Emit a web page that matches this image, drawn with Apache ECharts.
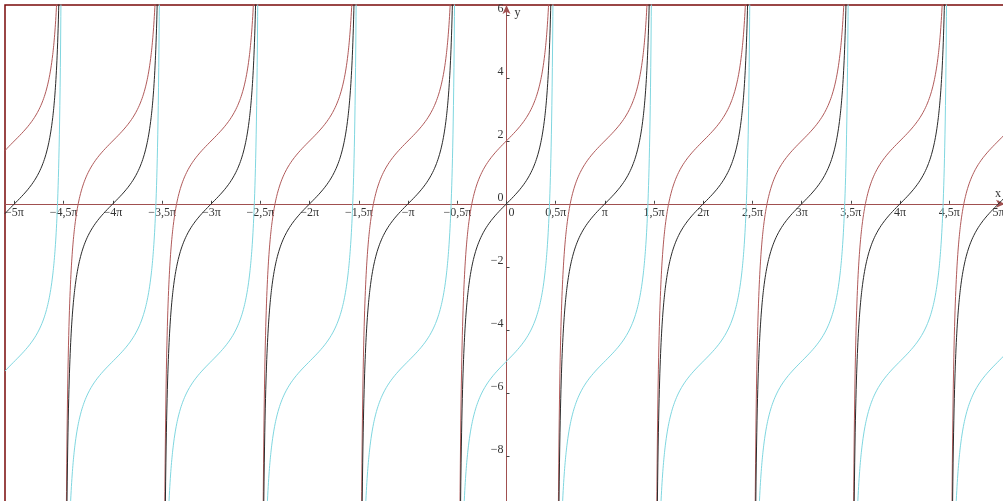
<!DOCTYPE html>
<html>
<head>
<meta charset="utf-8">
<script src="https://cdn.jsdelivr.net/npm/echarts@6/dist/echarts.min.js"></script>
<style>html,body{margin:0;padding:0;background:#fff;}#c{width:1003px;height:501px;}</style>
</head>
<body>
<div id="c"></div>
<script>
// x is measured in multiples of π
const seriesNames = ['tan x', 'tan x + 2', 'tan x − 5'];
const seriesOffsets = [0, 2, -5];
const seriesColors = ['#2a2a2a', '#b05a5a', '#7fd6df'];
const xTickValues = [-5,-4.5,-4,-3.5,-3,-2.5,-2,-1.5,-1,-0.5,0,0.5,1,1.5,2,2.5,3,3.5,4,4.5,5];
const xTickLabels = ['−5π','−4,5π','−4π','−3,5π','−3π','−2,5π','−2π','−1,5π','−π','−0,5π','0','0,5π','π','1,5π','2π','2,5π','3π','3,5π','4π','4,5π','5π'];
const yTickValues = [-8,-6,-4,-2,0,2,4,6];
const yTickLabels = ['−8','−6','−4','−2','0','2','4','6'];
const xRange = [-5.0965, 5.066];
const yRange = [-9.5, 6.311];
const sampleStep = 0.0025;

function buildSeriesData(offset) {
  const pts = [];
  const n = Math.round((xRange[1] - xRange[0]) / sampleStep);
  let prevK = null;
  for (let i = 0; i <= n; i++) {
    const x = xRange[0] + i * sampleStep;
    const k = Math.floor(x + 0.5); // branch index
    if (prevK !== null && k !== prevK) pts.push([k - 0.5, null]);
    prevK = k;
    pts.push([x, Math.tan(Math.PI * x) + offset]);
  }
  return pts;
}

const W = 1003, H = 501;
const G = {left: 5, top: 5, right: -2, bottom: -2};
const gw = W - G.left - G.right, gh = H - G.top - G.bottom;
// shift the axes onto the zero lines of the other axis (through the scale)
const xAxisOffset = -gh * (0 - yRange[0]) / (yRange[1] - yRange[0]);
const yAxisOffset = -gw * (0 - xRange[0]) / (xRange[1] - xRange[0]);

const chart = echarts.init(document.getElementById('c'), null, {renderer: 'canvas', width: W, height: H});
const axisColor = '#a05050';
const labelFont = {fontFamily: 'Liberation Serif', fontSize: 12, color: '#333'};

chart.setOption({
  animation: false,
  backgroundColor: '#fff',
  grid: Object.assign({show: true, borderColor: '#7a0a0a', borderWidth: 1.5, backgroundColor: 'transparent', containLabel: false, outerBoundsMode: 'none'}, G),
  xAxis: {
    type: 'value', min: xRange[0], max: xRange[1], position: 'bottom', offset: xAxisOffset,
    name: 'x', nameLocation: 'end', nameGap: 2,
    nameTextStyle: {fontFamily: 'Liberation Serif', fontSize: 12, color: '#333', align: 'right', verticalAlign: 'bottom', padding: [0, 6, 4, 0]},
    axisLine: {onZero: false, lineStyle: {color: axisColor, width: 1}, symbol: ['none', 'arrow'], symbolSize: [6, 9]},
    axisTick: {show: true, inside: true, length: 3, customValues: xTickValues, lineStyle: {color: '#444'}},
    axisLabel: {
      ...labelFont, margin: 3, customValues: xTickValues, hideOverlap: false,
      formatter: function (v) {
        const i = xTickValues.findIndex(t => Math.abs(t - v) < 1e-6);
        if (i < 0) return '';
        if (xTickValues[i] === 0) return '{z|' + xTickLabels[i] + '}';
        return xTickLabels[i];
      },
      rich: {z: {padding: [0, 0, 0, 10], fontFamily: 'Liberation Serif', fontSize: 12, color: '#333'}}
    },
    splitLine: {show: false}
  },
  yAxis: {
    type: 'value', min: yRange[0], max: yRange[1], position: 'left', offset: yAxisOffset,
    name: 'y', nameLocation: 'end', nameGap: -2,
    nameTextStyle: {fontFamily: 'Liberation Serif', fontSize: 12, color: '#333', align: 'left', verticalAlign: 'top', padding: [0, 0, 0, 8]},
    axisLine: {onZero: false, lineStyle: {color: axisColor, width: 1}, symbol: ['none', 'arrow'], symbolSize: [6, 9]},
    axisTick: {show: true, inside: true, length: 3, customValues: yTickValues, lineStyle: {color: '#444'}},
    axisLabel: {
      ...labelFont, margin: 3, verticalAlign: 'bottom', customValues: yTickValues, hideOverlap: false,
      formatter: function (v) {
        const i = yTickValues.findIndex(t => Math.abs(t - v) < 1e-6);
        return i < 0 ? '' : yTickLabels[i];
      }
    },
    splitLine: {show: false}
  },
  series: seriesOffsets.map((off, idx) => ({
    name: seriesNames[idx],
    type: 'line',
    data: buildSeriesData(off),
    showSymbol: false,
    connectNulls: false,
    clip: true,
    lineStyle: {color: seriesColors[idx], width: 1},
    itemStyle: {color: seriesColors[idx]},
    z: 3 - idx
  }))
});
</script>
</body>
</html>
